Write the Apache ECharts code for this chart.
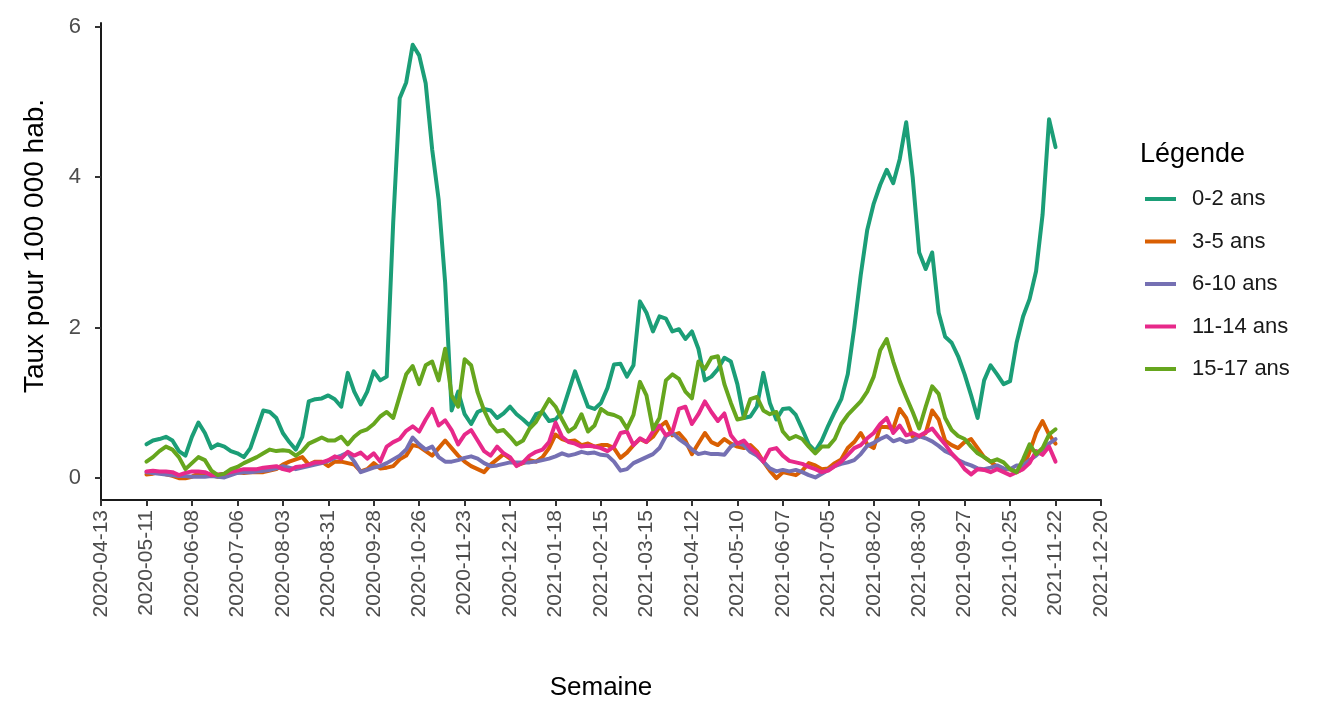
<!DOCTYPE html>
<html>
<head>
<meta charset="utf-8">
<title>Taux pour 100 000 hab. par tranche d'âge</title>
<script src="https://cdn.jsdelivr.net/npm/echarts@6/dist/echarts.min.js"></script>
<style>
  html, body { margin: 0; padding: 0; background: #ffffff; }
  #chart { width: 1322px; height: 704px; }
</style>
</head>
<body>
<div id="chart"></div>
<script>
// Axis tick labels (one every 28 days, starting 2020-04-13)
const tickLabels = [
  '2020-04-13', '2020-05-11', '2020-06-08', '2020-07-06', '2020-08-03', '2020-08-31',
  '2020-09-28', '2020-10-26', '2020-11-23', '2020-12-21', '2021-01-18', '2021-02-15',
  '2021-03-15', '2021-04-12', '2021-05-10', '2021-06-07', '2021-07-05', '2021-08-02',
  '2021-08-30', '2021-09-27', '2021-10-25', '2021-11-22', '2021-12-20'
];
const tickStepDays = 28;

// Observations: every 4 days from 2020-05-11 (day 28 after 2020-04-13)
const firstDay = 28;
const stepDays = 4;

const ageGroups = ['0-2 ans', '3-5 ans', '6-10 ans', '11-14 ans', '15-17 ans'];
const groupColors = ['#1B9E77', '#D95F02', '#7570B3', '#E7298A', '#66A61E'];

const rate0to2 = [
  .45, .50, .52, .55, .50, .36, .30, .55, .74, .60,
  .40, .45, .42, .36, .33, .28, .40, .65, .90, .88,
  .80, .60, .48, .38, .55, 1.02, 1.05, 1.06, 1.10, 1.05,
  .95, 1.40, 1.15, .98, 1.15, 1.42, 1.30, 1.35, 3.40, 5.05,
  5.26, 5.76, 5.62, 5.25, 4.37, 3.70, 2.60, .90, 1.15, .85,
  .72, .88, .92, .90, .80, .86, .95, .85, .78, .70,
  .85, .88, .76, .78, .88, 1.15, 1.42, 1.18, .95, .92,
  1.00, 1.20, 1.51, 1.52, 1.35, 1.50, 2.35, 2.20, 1.95, 2.15,
  2.12, 1.95, 1.98, 1.85, 1.95, 1.72, 1.30, 1.35, 1.45, 1.60,
  1.55, 1.25, .80, .82, .95, 1.40, 1.00, .78, .92, .93,
  .84, .65, .45, .36, .50, .70, .88, 1.05, 1.38, 2.00,
  2.70, 3.30, 3.65, 3.90, 4.10, 3.92, 4.24, 4.73, 4.00, 3.00,
  2.78, 3.00, 2.20, 1.88, 1.80, 1.62, 1.38, 1.10, .80, 1.30,
  1.50, 1.38, 1.25, 1.29, 1.80, 2.15, 2.38, 2.75, 3.50, 4.77,
  4.40
];

const rate3to5 = [
  .05, .06, .08, .05, .03, .00, .00, .02, .06, .07,
  .04, .02, .03, .05, .08, .07, .08, .08, .08, .10,
  .12, .18, .22, .25, .28, .18, .22, .22, .16, .22,
  .22, .20, .18, .09, .12, .20, .13, .14, .16, .25,
  .30, .44, .42, .36, .30, .40, .50, .40, .30, .22,
  .16, .12, .08, .18, .25, .32, .26, .17, .20, .24,
  .22, .28, .40, .58, .52, .49, .50, .44, .46, .42,
  .44, .44, .40, .27, .34, .44, .52, .48, .55, .68,
  .75, .57, .60, .50, .32, .46, .60, .48, .44, .52,
  .46, .42, .40, .44, .36, .22, .10, .00, .08, .06,
  .04, .10, .20, .17, .12, .13, .20, .25, .40, .48,
  .60, .45, .40, .68, .68, .66, .92, .80, .55, .55,
  .60, .90, .78, .50, .44, .40, .48, .52, .40, .28,
  .22, .15, .12, .12, .08, .13, .35, .60, .76, .58,
  .46
];

const rate6to10 = [
  .08, .07, .06, .05, .04, .03, .03, .02, .02, .02,
  .03, .02, .01, .04, .07, .08, .08, .09, .10, .11,
  .13, .16, .14, .12, .14, .16, .18, .20, .23, .27,
  .30, .34, .22, .08, .11, .14, .16, .20, .25, .30,
  .38, .54, .45, .38, .42, .28, .22, .22, .24, .27,
  .29, .26, .20, .16, .17, .19, .21, .21, .21, .21,
  .22, .24, .26, .29, .33, .30, .32, .35, .33, .34,
  .31, .30, .22, .10, .12, .20, .24, .28, .32, .40,
  .56, .60, .52, .46, .38, .32, .34, .32, .32, .31,
  .42, .47, .44, .35, .30, .22, .13, .09, .11, .09,
  .11, .08, .04, .01, .06, .11, .16, .19, .21, .24,
  .32, .43, .47, .52, .56, .49, .52, .48, .50, .56,
  .53, .49, .43, .36, .32, .24, .20, .17, .13, .12,
  .14, .17, .13, .12, .17, .17, .24, .30, .38, .46,
  .52
];

const rate11to14 = [
  .09, .10, .09, .09, .08, .04, .07, .09, .09, .08,
  .04, .05, .06, .08, .10, .12, .12, .12, .14, .15,
  .16, .12, .10, .15, .16, .18, .21, .21, .24, .29,
  .26, .35, .30, .34, .26, .33, .22, .42, .48, .52,
  .63, .69, .62, .78, .92, .70, .77, .64, .45, .58,
  .64, .50, .36, .30, .42, .33, .28, .16, .21, .30,
  .35, .38, .48, .74, .55, .48, .46, .42, .43, .42,
  .40, .36, .42, .60, .62, .44, .53, .48, .62, .70,
  .57, .62, .92, .95, .72, .85, 1.02, .88, .76, .86,
  .57, .46, .50, .40, .33, .22, .38, .40, .30, .23,
  .21, .19, .15, .12, .08, .10, .16, .22, .31, .40,
  .44, .53, .60, .72, .80, .60, .70, .57, .60, .56,
  .61, .66, .55, .45, .33, .24, .12, .05, .12, .11,
  .08, .12, .08, .04, .08, .12, .20, .36, .31, .42,
  .22
];

const rate15to17 = [
  .22, .28, .36, .42, .38, .28, .12, .20, .28, .24,
  .10, .04, .06, .12, .15, .20, .24, .28, .33, .38,
  .36, .37, .36, .30, .36, .46, .50, .54, .50, .50,
  .55, .45, .55, .62, .65, .72, .82, .88, .80, 1.09,
  1.38, 1.49, 1.25, 1.50, 1.55, 1.30, 1.72, 1.10, .95, 1.58,
  1.50, 1.14, .90, .72, .62, .64, .55, .45, .50, .66,
  .75, .90, 1.05, .95, .78, .62, .68, .85, .62, .70,
  .92, .86, .84, .80, .66, .84, 1.28, 1.10, .65, .80,
  1.30, 1.38, 1.32, 1.15, 1.06, 1.55, 1.45, 1.60, 1.62, 1.25,
  1.00, .78, .80, 1.05, 1.08, .90, .85, .88, .62, .52,
  .56, .52, .42, .33, .42, .42, .52, .72, .84, .93,
  1.02, 1.15, 1.35, 1.70, 1.85, 1.55, 1.29, 1.08, .88, .66,
  .95, 1.22, 1.12, .80, .64, .56, .52, .42, .33, .28,
  .22, .25, .21, .12, .08, .25, .45, .32, .40, .58,
  .65
];

const yTicks = [0, 2, 4, 6];

const groupRates = [rate0to2, rate3to5, rate6to10, rate11to14, rate15to17];
const FONT = "'Liberation Sans', Arial, Helvetica, sans-serif";

// pair each value with its day offset so the value axis places it
function toPoints(values) {
  return values.map((v, i) => [firstDay + i * stepDays, v]);
}

const chart = echarts.init(document.getElementById('chart'), null, { renderer: 'canvas' });

const series = ageGroups.map((name, g) => ({
  name: name,
  type: 'line',
  data: toPoints(groupRates[g]),
  showSymbol: false,
  symbol: 'none',
  lineStyle: { width: 4, color: groupColors[g], join: 'round', cap: 'round' },
  itemStyle: { color: groupColors[g] },
  emphasis: { disabled: true },
  z: 2 + g
}));

chart.setOption({
  backgroundColor: '#ffffff',
  animation: false,
  textStyle: { fontFamily: FONT },
  grid: { left: 101, right: 221, top: 23, bottom: 204, containLabel: false, outerBoundsMode: 'none' },
  xAxis: {
    type: 'value',
    min: 0,
    max: (tickLabels.length - 1) * tickStepDays,
    interval: tickStepDays,
    name: 'Semaine',
    nameLocation: 'middle',
    nameGap: 175,
    nameTextStyle: { fontSize: 26, color: '#000000', fontFamily: FONT },
    axisLine: { show: true, onZero: false, lineStyle: { color: '#1a1a1a', width: 2 } },
    axisTick: { show: true, length: 6, lineStyle: { color: '#333333', width: 2 } },
    axisLabel: {
      rotate: 90,
      margin: 10,
      fontSize: 21,
      color: '#4d4d4d',
      fontFamily: FONT,
      formatter: function (v) { return tickLabels[Math.round(v / tickStepDays)] || ''; }
    },
    splitLine: { show: false }
  },
  yAxis: {
    type: 'value',
    min: -0.29,
    max: 6.05,
    axisLine: { show: true, onZero: false, lineStyle: { color: '#1a1a1a', width: 2 } },
    axisTick: { show: true, length: 6, customValues: yTicks, lineStyle: { color: '#333333', width: 2 } },
    axisLabel: { customValues: yTicks, margin: 20, fontSize: 22, color: '#4d4d4d', fontFamily: FONT },
    splitLine: { show: false }
  },
  legend: {
    orient: 'vertical',
    left: 1140,
    top: 181,
    icon: 'rect',
    itemWidth: 31,
    itemHeight: 4,
    itemGap: 16.5,
    selectedMode: false,
    data: ageGroups,
    textStyle: { fontSize: 22, lineHeight: 26, color: '#1a1a1a', fontFamily: FONT, padding: [0, 0, 0, 11] }
  },
  graphic: [
    {
      // vertical axis title
      type: 'text',
      x: 35,
      y: 246,
      rotation: Math.PI / 2,
      style: {
        text: 'Taux pour 100 000 hab.',
        font: '28px ' + FONT,
        fill: '#000000',
        align: 'center',
        verticalAlign: 'middle'
      }
    },
    {
      // legend heading
      type: 'text',
      left: 1140,
      top: 141,
      style: { text: 'Légende', fill: '#000000', font: '27px ' + FONT }
    }
  ],
  series: series
});
</script>
</body>
</html>
